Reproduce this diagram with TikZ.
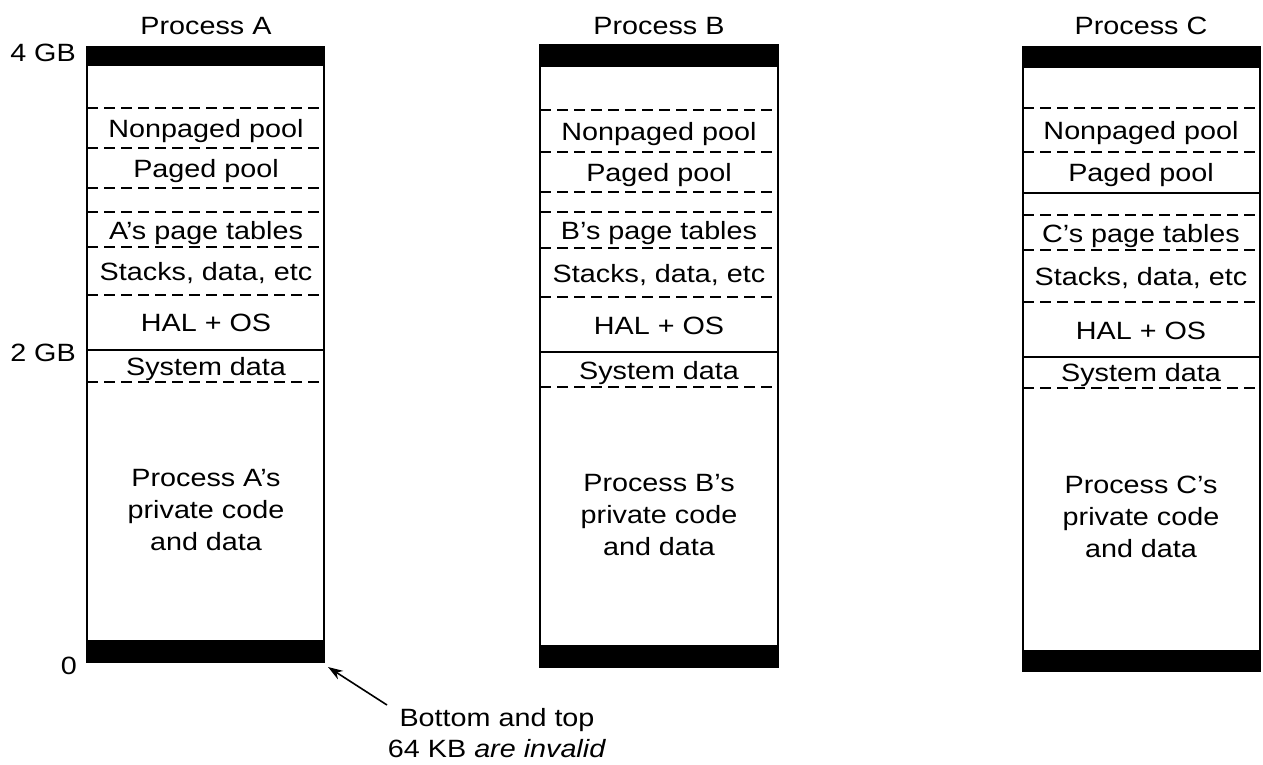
\documentclass[tikz,border=0pt]{standalone}
\usepackage{fontspec}
\setmainfont{Liberation Sans}[FakeStretch=1.15]
\usetikzlibrary{arrows.meta}
\begin{document}
\begin{tikzpicture}[x=1pt,y=-1pt,
  lbl/.style={font=\fontsize{25}{30}\selectfont, inner sep=0pt, text height=18pt, text depth=0pt},
  big/.style={font=\fontsize{25}{32}\selectfont, inner sep=0pt, align=center},
  border/.style={line width=2pt, line join=miter},
  dline/.style={line width=1.5pt, dash pattern=on 11pt off 6pt},
  sline/.style={line width=2pt},
  barfill/.style={fill=black},
  pointer/.style={-{Stealth[length=15pt,width=10pt]}, line width=1.6pt}]
\useasboundingbox (0,0) rectangle (1263,764);

% ---------------- Process A ----------------
\fill[barfill] (87,47) rectangle (324,66);
\fill[barfill] (86,640) rectangle (324,662);
\draw[dline] (87,108) -- (324,108);
\draw[dline] (87,148) -- (324,148);
\draw[dline] (87,188) -- (324,188);
\draw[dline] (87,212) -- (324,212);
\draw[dline] (87,247) -- (324,247);
\draw[dline] (87,295) -- (324,295);
\draw[sline] (87,350) -- (324,350);
\draw[dline] (87,382) -- (324,382);
\draw[border] (87,47) rectangle (324,662);
\coordinate (Acorner) at (328,667);
\node[lbl] (Atitle) at (206,25) {Process A};
\node[lbl] (Anp) at (206,128) {Nonpaged pool};
\node[lbl] (App) at (206,168) {Paged pool};
\node[lbl] (Apt) at (206,230) {A's page tables};
\node[lbl] (Ast) at (206,271) {Stacks, data, etc};
\node[lbl] (Ahal) at (206,322) {HAL + OS};
\node[lbl] (Asys) at (206,366) {System data};
\node[big] (Apriv) at (206,510) {Process A's\\private code\\and data};

% axis labels
\node[lbl, anchor=east] (g4) at (76,52) {4 GB};
\node[lbl, anchor=east] (g2) at (76,352) {2 GB};
\node[lbl, anchor=east] (g0) at (77,665) {0};

% ---------------- Process B ----------------
\fill[barfill] (540,45) rectangle (778,67);
\fill[barfill] (540,645) rectangle (778,667);
\draw[dline] (540,110) -- (778,110);
\draw[dline] (540,152) -- (778,152);
\draw[dline] (540,192) -- (778,192);
\draw[dline] (540,212) -- (778,212);
\draw[dline] (540,248) -- (778,248);
\draw[dline] (540,297) -- (778,297);
\draw[sline] (540,352) -- (778,352);
\draw[dline] (540,387) -- (778,387);
\draw[border] (540,45) rectangle (778,667);
\node[lbl] (Btitle) at (659,25) {Process B};
\node[lbl] (Bnp) at (659,131) {Nonpaged pool};
\node[lbl] (Bpp) at (659,172) {Paged pool};
\node[lbl] (Bpt) at (659,230) {B's page tables};
\node[lbl] (Bst) at (659,273) {Stacks, data, etc};
\node[lbl] (Bhal) at (659,325) {HAL + OS};
\node[lbl] (Bsys) at (659,370) {System data};
\node[big] (Bpriv) at (659,515) {Process B's\\private code\\and data};

% ---------------- Process C ----------------
\fill[barfill] (1023,47) rectangle (1260,68);
\fill[barfill] (1023,650) rectangle (1260,671);
\draw[dline] (1023,108) -- (1260,108);
\draw[dline] (1023,152) -- (1260,152);
\draw[sline] (1023,193) -- (1260,193);
\draw[dline] (1023,215) -- (1260,215);
\draw[dline] (1023,250) -- (1260,250);
\draw[dline] (1023,302) -- (1260,302);
\draw[sline] (1023,357) -- (1260,357);
\draw[dline] (1023,388) -- (1260,388);
\draw[border] (1023,47) rectangle (1260,671);
\node[lbl] (Ctitle) at (1141,25) {Process C};
\node[lbl] (Cnp) at (1141,130) {Nonpaged pool};
\node[lbl] (Cpp) at (1141,172) {Paged pool};
\node[lbl] (Cpt) at (1141,233) {C's page tables};
\node[lbl] (Cst) at (1141,276) {Stacks, data, etc};
\node[lbl] (Chal) at (1141,330) {HAL + OS};
\node[lbl] (Csys) at (1141,372) {System data};
\node[big] (Cpriv) at (1141,517) {Process C's\\private code\\and data};

% ---------------- note ----------------
\node[font=\fontsize{25}{31}\selectfont, inner sep=0pt, align=center] (note) at (497,733) {Bottom and top\\64 KB \textit{are invalid}};
\coordinate (notetail) at (387,705);
\draw[pointer] (notetail) -- (Acorner);
\end{tikzpicture}
\end{document}
